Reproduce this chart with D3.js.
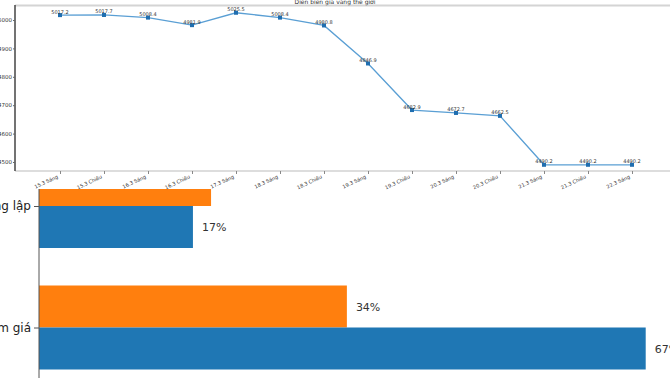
<!DOCTYPE html>
<html><head><meta charset="utf-8">
<script src="https://cdn.jsdelivr.net/npm/d3@7"></script>
<style>html,body{margin:0;padding:0;background:#fff;}svg{display:block;font-family:"DejaVu Sans",sans-serif;}</style>
</head><body>
<svg id="c" width="670" height="378"></svg>
<script>
// Top chart data
const dates = ["15.3 Sáng","15.3 Chiều","16.3 Sáng","16.3 Chiều","17.3 Sáng","18.3 Sáng","18.3 Chiều","19.3 Sáng","19.3 Chiều","20.3 Sáng","20.3 Chiều","21.3 Sáng","21.3 Chiều","22.3 Sáng"];
const prices = [5017.2,5017.7,5008.4,4981.9,5025.5,5008.4,4980.8,4846.9,4682.9,4672.7,4662.5,4490.2,4490.2,4490.2];
const yTicks = [4500,4600,4700,4800,4900,5000];
const title = "Diễn biến giá vàng thế giới";
// Bottom chart data
const barCats = ["Không lập","Giảm giá"];
const seriesBlue = [17,67];
const seriesOrange = [19,34];

const svg = d3.select("#c");
svg.append("defs").append("clipPath").attr("id","clipB")
  .append("rect").attr("x",0).attr("y",189).attr("width",670).attr("height",200);

// ---------- Bottom bar chart ----------
const bx = d3.scaleLinear().domain([0,67]).range([39,645.7]);
const by = d3.scalePoint().domain(barCats).range([206,327.5]);
const bh = 42;
const gBottom = svg.append("g").attr("clip-path","url(#clipB)");
gBottom.selectAll("rect.o").data(barCats).join("rect")
  .attr("x", bx(0)).attr("y", d => by(d) - bh)
  .attr("width", (d,i) => bx(seriesOrange[i]) - bx(0)).attr("height", bh)
  .attr("fill", "#ff7f0e");
gBottom.selectAll("rect.b").data(barCats).join("rect")
  .attr("x", bx(0)).attr("y", d => by(d))
  .attr("width", (d,i) => bx(seriesBlue[i]) - bx(0)).attr("height", bh)
  .attr("fill", "#1f77b4");
gBottom.selectAll("text.o").data(barCats).join("text")
  .attr("x", (d,i) => bx(seriesOrange[i]) + 9).attr("y", d => by(d) - bh/2 + 4)
  .attr("font-size", 11).attr("fill", "#333").text((d,i) => seriesOrange[i] + "%");
gBottom.selectAll("text.b").data(barCats).join("text")
  .attr("x", (d,i) => bx(seriesBlue[i]) + 9).attr("y", d => by(d) + bh/2 + 4)
  .attr("font-size", 11).attr("fill", "#333").text((d,i) => seriesBlue[i] + "%");
const byAxis = gBottom.append("g").attr("transform", `translate(${bx(0)},0)`)
  .call(d3.axisLeft(by).tickSize(5).tickPadding(3));
byAxis.select(".domain").attr("stroke", "#555").attr("d", "M0,150V380");
byAxis.selectAll(".tick line").attr("stroke", "#555");
byAxis.selectAll(".tick text").attr("font-size", 12).attr("fill", "#222").attr("font-family", '"DejaVu Sans",sans-serif');

// ---------- Top line chart ----------
const gTop = svg.append("g");
gTop.append("rect").attr("x",0).attr("y",0).attr("width",670).attr("height",189).attr("fill","#fff");
const x = d3.scalePoint().domain(dates).range([60,632]);
const y = d3.scaleLinear().domain([4500,5000]).range([162,20]);

gTop.append("line").attr("x1",15).attr("x2",670).attr("y1",5.5).attr("y2",5.5).attr("stroke","#d4d4d4").attr("stroke-width",2);
gTop.append("text").attr("x",335).attr("y",4).attr("text-anchor","middle").attr("font-size",6).attr("fill","#333").text(title);

const xa = gTop.append("g").attr("transform","translate(0,171)")
  .call(d3.axisBottom(x).tickSize(3).tickPadding(2));
xa.select(".domain").attr("stroke","#bbb").attr("d","M15,0H670");
xa.selectAll(".tick line").attr("stroke","#888");
xa.selectAll(".tick text").attr("font-size",5).attr("fill","#333")
  .attr("text-anchor","end").attr("dy",null)
  .attr("transform","translate(-2,7) rotate(-25)").attr("y",0).attr("x",0)
  .attr("font-family",'"DejaVu Sans",sans-serif');

const ya = gTop.append("g").attr("transform","translate(15,0)")
  .call(d3.axisLeft(y).tickValues(yTicks).tickFormat(d3.format("d")).tickSize(2).tickPadding(1));
ya.select(".domain").attr("stroke","#444").attr("stroke-width",1.5).attr("d","M0,5V171");
ya.selectAll(".tick line").attr("stroke","#666");
ya.selectAll(".tick text").attr("font-size",5.5).attr("fill","#333").attr("font-family",'"DejaVu Sans",sans-serif');

const line = d3.line().x((d,i) => x(dates[i])).y(d => y(d));
gTop.append("path").datum(prices).attr("d", line).attr("fill","none").attr("stroke","#5a9fd4").attr("stroke-width",1.3);
gTop.selectAll("rect.m").data(prices).join("rect")
  .attr("x",(d,i)=>x(dates[i])-2).attr("y",d=>y(d)-2).attr("width",4).attr("height",4).attr("fill","#1f6eb0");
gTop.selectAll("text.l").data(prices).join("text")
  .attr("x",(d,i)=>x(dates[i])).attr("y",d=>y(d)-1.5).attr("text-anchor","middle")
  .attr("font-size",5).attr("fill","#333").text(d=>d.toFixed(1));
</script>
</body></html>
